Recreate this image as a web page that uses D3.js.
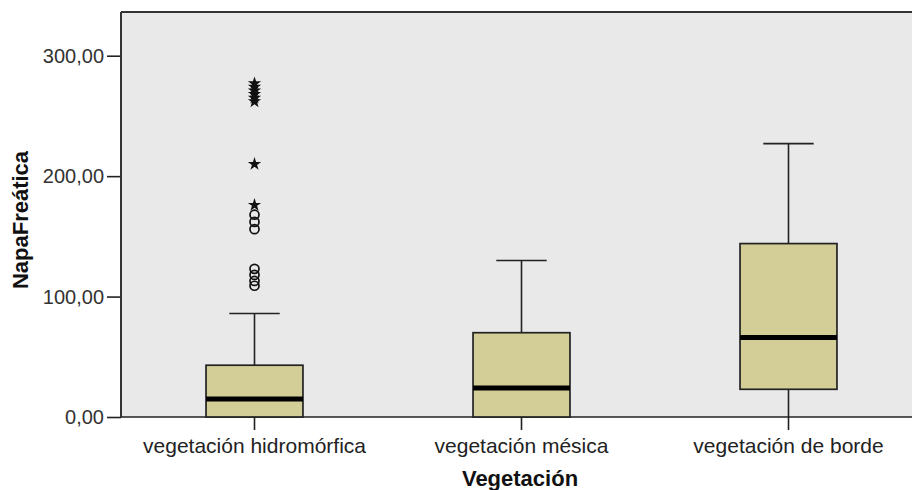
<!DOCTYPE html>
<html>
<head>
<meta charset="utf-8">
<script src="https://cdn.jsdelivr.net/npm/d3@7"></script>
<style>
  body { margin: 0; background: #fff; }
  svg { display: block; }
</style>
</head>
<body>
<svg id="chart" width="912" height="490"></svg>
<script>
const categories = ["vegetación hidromórfica", "vegetación mésica", "vegetación de borde"];
const whiskerLow = [0, 0, 0];
const q1 = [0, 0, 23];
const median = [15, 24, 66];
const q3 = [43, 70, 144];
const whiskerHigh = [86, 130, 227];
// outliers for "vegetación hidromórfica"
const outlierCircles = [109, 113, 118, 123, 156, 162, 168];
const outlierStars = [176, 210, 262, 265, 268, 271, 274, 277];
const yTicks = [0, 100, 200, 300];

(function () {
const svg = d3.select("#chart");
const pLeft = 121, pTop = 12, pBottom = 417, pRight = 922;

const x = d3.scaleBand().domain(categories).range([pLeft, pRight]).paddingInner(0).paddingOuter(0);
const y = d3.scaleLinear().domain([0, 336.3]).range([pBottom, pTop]);

const boxW = x.bandwidth() * 0.363;
const capW = boxW * 0.52;

// plot background
svg.append("rect").attr("x", pLeft).attr("y", pTop)
  .attr("width", pRight - pLeft).attr("height", pBottom - pTop)
  .attr("fill", "#e9e9e9");

const fmt = d => d3.format(".2f")(d).replace(".", ",");

// y axis
const yAxis = svg.append("g").attr("transform", `translate(${pLeft},0)`)
  .call(d3.axisLeft(y).tickValues(yTicks).tickSize(14).tickPadding(3).tickFormat(fmt));
yAxis.select(".domain").remove();
yAxis.selectAll(".tick line").attr("stroke", "#222").attr("stroke-width", 1.6);
yAxis.selectAll(".tick text").attr("font-family", "Liberation Sans, Arial, sans-serif")
  .attr("font-size", 20).attr("fill", "#333").attr("dy", "0.34em");

// x axis
const xAxis = svg.append("g").attr("transform", `translate(0,${pBottom})`)
  .call(d3.axisBottom(x).tickSize(13).tickPadding(8));
xAxis.select(".domain").remove();
xAxis.selectAll(".tick line").attr("stroke", "#222").attr("stroke-width", 1.6);
xAxis.selectAll(".tick text").attr("font-family", "Liberation Sans, Arial, sans-serif")
  .attr("font-size", 21).attr("fill", "#222");

// frame lines
svg.append("line").attr("x1", pLeft).attr("x2", pLeft).attr("y1", pTop).attr("y2", pBottom)
  .attr("stroke", "#333").attr("stroke-width", 2);
svg.append("line").attr("x1", pLeft).attr("x2", pRight).attr("y1", pTop).attr("y2", pTop)
  .attr("stroke", "#333").attr("stroke-width", 2);
svg.append("line").attr("x1", pLeft).attr("x2", 912).attr("y1", pBottom).attr("y2", pBottom)
  .attr("stroke", "#222").attr("stroke-width", 1.6);

// boxes
const g = svg.append("g");
categories.forEach((c, i) => {
  const cx = x(c) + x.bandwidth() / 2;
  g.append("line").attr("x1", cx).attr("x2", cx).attr("y1", y(q3[i])).attr("y2", y(whiskerHigh[i]))
    .attr("stroke", "#222").attr("stroke-width", 1.6);
  g.append("line").attr("x1", cx).attr("x2", cx).attr("y1", y(q1[i])).attr("y2", y(whiskerLow[i]))
    .attr("stroke", "#222").attr("stroke-width", 1.6);
  g.append("line").attr("x1", cx - capW / 2).attr("x2", cx + capW / 2)
    .attr("y1", y(whiskerHigh[i])).attr("y2", y(whiskerHigh[i]))
    .attr("stroke", "#222").attr("stroke-width", 1.6);
  g.append("rect").attr("x", cx - boxW / 2).attr("y", y(q3[i]))
    .attr("width", boxW).attr("height", y(q1[i]) - y(q3[i]))
    .attr("fill", "#d3cd98").attr("stroke", "#222").attr("stroke-width", 1.7);
  g.append("line").attr("x1", cx - boxW / 2).attr("x2", cx + boxW / 2)
    .attr("y1", y(median[i])).attr("y2", y(median[i]))
    .attr("stroke", "#000").attr("stroke-width", 5);
});

// outliers (hydromorphic group)
const ocx = x(categories[0]) + x.bandwidth() / 2;
g.selectAll(".oc").data(outlierCircles).enter().append("circle")
  .attr("cx", ocx).attr("cy", d => y(d)).attr("r", 4.5)
  .attr("fill", "none").attr("stroke", "#111").attr("stroke-width", 1.7);
g.selectAll(".os").data(outlierStars).enter().append("path")
  .attr("transform", d => `translate(${ocx},${y(d)})`)
  .attr("d", d3.symbol(d3.symbolStar, 55))
  .attr("fill", "#111");

// axis titles
svg.append("text").attr("x", 520).attr("y", 486)
  .attr("text-anchor", "middle").attr("font-family", "Liberation Sans, Arial, sans-serif")
  .attr("font-weight", "bold").attr("font-size", 22).attr("fill", "#111").text("Vegetación");
svg.append("text").attr("transform", "translate(28,220) rotate(-90)")
  .attr("text-anchor", "middle").attr("font-family", "Liberation Sans, Arial, sans-serif")
  .attr("font-weight", "bold").attr("font-size", 22).attr("fill", "#111").text("NapaFreática");
})();
</script>
</body>
</html>
